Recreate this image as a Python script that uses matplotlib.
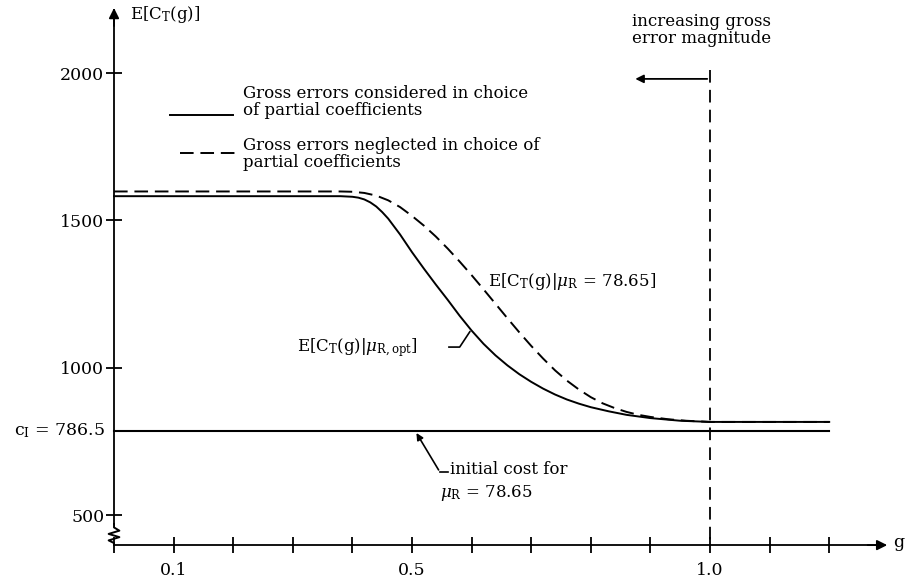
import numpy as np
import matplotlib
matplotlib.use('Agg')
import matplotlib.pyplot as plt

plt.rcParams['font.family'] = 'DejaVu Serif'
plt.rcParams['mathtext.fontset'] = 'dejavuserif'

# expected total cost vs gross error factor g
g_opt = [0, 0.30, 0.38, 0.40, 0.41, 0.42, 0.43, 0.44, 0.45, 0.46, 0.48, 0.50,
         0.52, 0.54, 0.56, 0.58, 0.60, 0.62, 0.64, 0.66, 0.68, 0.70, 0.72, 0.74,
         0.76, 0.78, 0.80, 0.83, 0.86, 0.90, 0.95, 1.00, 1.10, 1.20]
cost_opt = [1582, 1582, 1582, 1580, 1577, 1571, 1561, 1547, 1528, 1506, 1452, 1392,
            1336, 1282, 1230, 1176, 1126, 1081, 1042, 1008, 978, 952, 929, 909,
            892, 878, 866, 852, 840, 829, 820, 816, 816, 816]

g_fix = [0, 0.30, 0.38, 0.40, 0.42, 0.44, 0.46, 0.48, 0.50, 0.52, 0.54, 0.56,
         0.58, 0.60, 0.62, 0.64, 0.66, 0.68, 0.70, 0.72, 0.74, 0.76, 0.78, 0.80,
         0.82, 0.84, 0.86, 0.88, 0.90, 0.93, 0.96, 1.00, 1.10, 1.20]
cost_fix = [1598, 1598, 1598, 1597, 1593, 1584, 1568, 1545, 1515, 1482, 1445, 1404,
            1360, 1314, 1266, 1217, 1168, 1120, 1074, 1031, 991, 956, 926, 900,
            879, 863, 850, 840, 833, 825, 820, 816, 816, 816]

c_I = 786.5
x_ticks = [0, 0.1, 0.2, 0.3, 0.4, 0.5, 0.6, 0.7, 0.8, 0.9, 1.0, 1.1, 1.2]
x_labels = ['', '0.1', '', '', '', '0.5', '', '', '', '', '1.0', '', '']
y_ticks = [500, 1000, 1500, 2000]

y_axis = 398  # where the g axis crosses

fig = plt.figure(figsize=(9.09, 5.82), dpi=100)
ax = fig.add_axes([0, 0, 1, 1])
ax.set_xlim(-0.1913, 1.3339)
ax.set_ylim(2000 - 509 / 0.2947, 2000 + 73 / 0.2947)

for s in ['top', 'right']:
    ax.spines[s].set_visible(False)
ax.spines['left'].set_position(('data', 0))
ax.spines['left'].set_bounds(470, 2215)
ax.spines['bottom'].set_position(('data', y_axis))
ax.spines['bottom'].set_bounds(0, 1.28)
ax.spines['left'].set_linewidth(1.3)
ax.spines['bottom'].set_linewidth(1.3)

ax.set_xticks(x_ticks)
ax.set_xticklabels(x_labels)
ax.set_yticks(y_ticks)
ax.tick_params(axis='x', direction='inout', length=12, width=1.3, pad=6, labelsize=12.5)
ax.tick_params(axis='y', direction='inout', length=12, width=1.3, pad=1, labelsize=12.5)

# axis arrows
ax.annotate('', xy=(1.302, y_axis), xytext=(1.26, y_axis),
            arrowprops=dict(arrowstyle='-|>', color='black', lw=1.3, mutation_scale=15))
ax.annotate('', xy=(0, 2230), xytext=(0, 2150),
            arrowprops=dict(arrowstyle='-|>', color='black', lw=1.3, mutation_scale=15))
# axis break zigzag
zx = [0, 0, 0.009, -0.009, 0.009, -0.009, 0, 0]
zy = [470, 458, 447, 436, 425, 414, 405, y_axis]
ax.plot(zx, zy, color='black', lw=1.4)
ax.text(1.307, y_axis + 8, 'g', fontsize=12.5, va='center', ha='left')
ax.text(0.027, 2197, r'E[C$_{\rm T}$(g)]', fontsize=12, va='center', ha='left')

# curves
ax.plot(g_opt, cost_opt, color='black', lw=1.4)
ax.plot(g_fix, cost_fix, color='black', lw=1.4, linestyle=(0, (7, 3.5)))
ax.plot([0, 1.2], [c_I, c_I], color='black', lw=1.5)
ax.text(-0.015, c_I, r'c$_{\rm I}$ = 786.5', fontsize=12.5, va='center', ha='right')

# g = 1.0 marker
ax.plot([1.0, 1.0], [2010, y_axis], color='black', lw=1.3, linestyle=(0, (7, 4)))
ax.annotate('', xy=(0.87, 1980), xytext=(1.0, 1980),
            arrowprops=dict(arrowstyle='-|>', color='black', lw=1.3, mutation_scale=12))
ax.text(0.869, 2146, 'increasing gross\nerror magnitude', fontsize=12,
        va='center', ha='left', linespacing=1.0)

# legend
ax.plot([0.094, 0.200], [1856, 1856], color='black', lw=1.4)
ax.text(0.216, 1900, 'Gross errors considered in choice\nof partial coefficients',
        fontsize=12, va='center', ha='left', linespacing=1.0)
ax.plot([0.111, 0.205], [1729, 1729], color='black', lw=1.4, linestyle=(0, (7, 3.5)))
ax.text(0.216, 1726, 'Gross errors neglected in choice of\npartial coefficients',
        fontsize=12, va='center', ha='left', linespacing=1.0)

# curve annotations
ax.text(0.628, 1291, r'E[C$_{\rm T}$(g)|$\mu_{\rm R}$ = 78.65]', fontsize=12,
        va='center', ha='left')
ax.text(0.307, 1067, r'E[C$_{\rm T}$(g)|$\mu_{\rm R,opt}$]', fontsize=12,
        va='center', ha='left')
ax.plot([0.562, 0.580, 0.597], [1070, 1070, 1122], color='black', lw=1.2)

ax.annotate('', xy=(0.505, c_I), xytext=(0.547, 645),
            arrowprops=dict(arrowstyle='-|>', color='black', lw=1.2, mutation_scale=10))
ax.plot([0.547, 0.56], [645, 645], color='black', lw=1.2)
ax.text(0.564, 653, 'initial cost for', fontsize=12, va='center', ha='left')
ax.text(0.547, 575, r'$\mu_{\rm R}$ = 78.65', fontsize=12, va='center', ha='left')

plt.savefig('out.png', dpi=100)
